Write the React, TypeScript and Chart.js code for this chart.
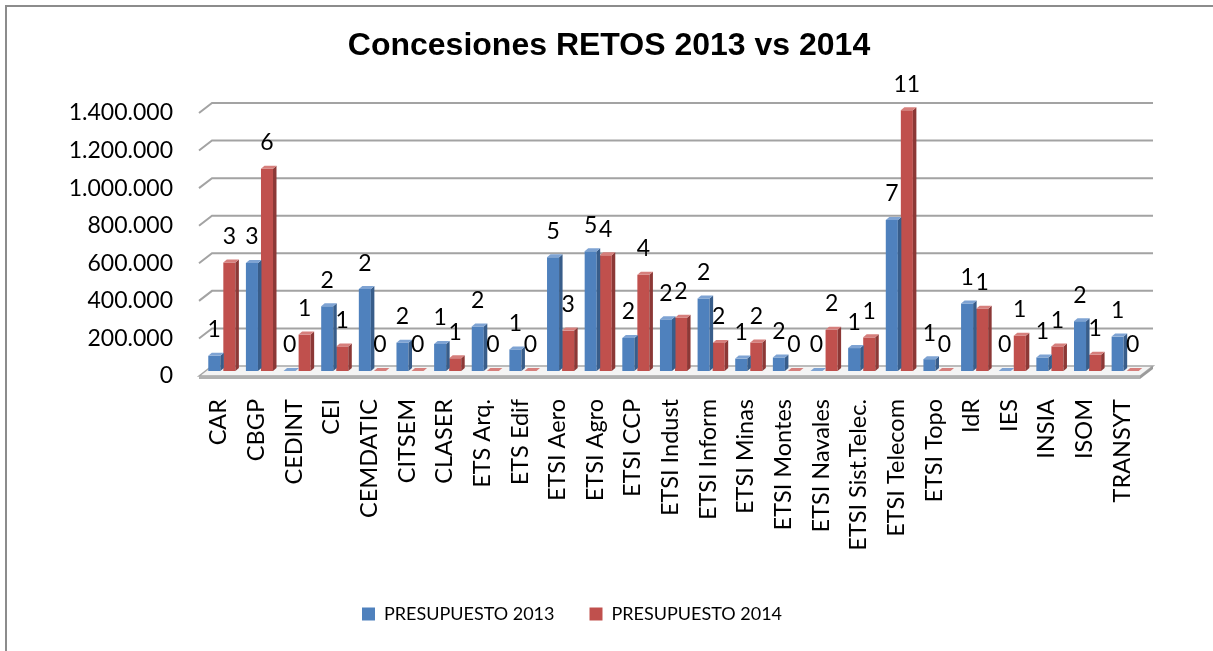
import React, { useEffect, useRef } from "react";
import { Chart, registerables } from "chart.js";

Chart.register(...registerables);

const TITLE = "Concesiones RETOS 2013 vs 2014";
const categories = [
  "CAR", "CBGP", "CEDINT", "CEI", "CEMDATIC", "CITSEM", "CLASER", "ETS Arq.", "ETS Edif",
  "ETSI Aero", "ETSI Agro", "ETSI CCP", "ETSI Indust", "ETSI Inform", "ETSI Minas",
  "ETSI Montes", "ETSI Navales", "ETSI Sist.Telec.", "ETSI Telecom", "ETSI Topo",
  "IdR", "IES", "INSIA", "ISOM", "TRANSYT",
];
const presupuesto2013 = [
  81000, 575000, 0, 345000, 436000, 151000, 144000, 237000, 115000,
  605000, 637000, 176000, 275000, 386000, 66000,
  72000, 0, 122000, 804000, 63000,
  359000, 0, 72000, 265000, 183000,
];
const presupuesto2014 = [
  578000, 1077000, 194000, 131000, 0, 0, 68000, 0, 0,
  215000, 616000, 512000, 284000, 149000, 152000,
  0, 219000, 179000, 1388000, 0,
  332000, 188000, 131000, 86000, 0,
];
const concesiones2013 = [1, 3, 0, 2, 2, 2, 1, 2, 1, 5, 5, 2, 2, 2, 1, 2, 0, 1, 7, 1, 1, 0, 1, 2, 1];
const concesiones2014 = [3, 6, 1, 1, 0, 0, 1, 0, 0, 3, 4, 4, 2, 2, 2, 0, 2, 1, 11, 0, 1, 1, 1, 1, 0];
const seriesNames = ["PRESUPUESTO 2013", "PRESUPUESTO 2014"];
const yMax = 1400000;
const yStep = 200000;

const FRONT = ["#4f81bd", "#c0504d"];
const SIDE = ["#385d8a", "#8c3836"];
const TOP = ["#7ea3d3", "#d67f7c"];

const fmt = (v: number) => String(v).replace(/\B(?=(\d{3})+(?!\d))/g, ".");

const titlePlugin = {
  id: "customTitle",
  afterDraw(chart: any) {
    const { ctx } = chart;
    ctx.save();
    ctx.font = 'bold 32px "Liberation Sans", Arial, sans-serif';
    ctx.fillStyle = "#000";
    ctx.textAlign = "center";
    ctx.textBaseline = "middle";
    ctx.fillText(TITLE, 609, 46);
    ctx.restore();
  },
};

const wallPlugin = {
  id: "wall3d",
  beforeDatasetsDraw(chart: any) {
    const { ctx, chartArea, scales } = chart;
    const { left, right } = chartArea;
    const y = scales.y;
    ctx.save();
    // floor
    const y0 = y.getPixelForValue(0);
    ctx.beginPath();
    ctx.moveTo(left - 4, y0 + 5);
    ctx.lineTo(left + 9, y0 - 5);
    ctx.lineTo(right + 9, y0 - 5);
    ctx.lineTo(right - 4, y0 + 5);
    ctx.closePath();
    ctx.fillStyle = "#f4f4f4";
    ctx.fill();
    ctx.strokeStyle = "#a6a6a6";
    ctx.lineWidth = 1.5;
    ctx.stroke();
    ctx.fillStyle = "#b0b0b0";
    ctx.fillRect(left - 4, y0 + 5, right - left, 3);
    ctx.beginPath();
    ctx.moveTo(right - 4, y0 + 5);
    ctx.lineTo(right + 9, y0 - 5);
    ctx.lineTo(right + 9, y0 - 2);
    ctx.lineTo(right - 4, y0 + 8);
    ctx.closePath();
    ctx.fillStyle = "#9a9a9a";
    ctx.fill();
    // gridlines
    ctx.strokeStyle = "#a3a3a3";
    ctx.lineWidth = 2;
    y.ticks.forEach((t: any) => {
      if (t.value === 0) return;
      const yy = y.getPixelForValue(t.value);
      ctx.beginPath();
      ctx.moveTo(left - 4, yy + 5);
      ctx.lineTo(left + 9, yy - 5);
      ctx.lineTo(right + 9, yy - 5);
      ctx.stroke();
    });
    ctx.restore();
  },
};

const barFacesPlugin = {
  id: "barFaces",
  afterDatasetsDraw(chart: any) {
    const { ctx } = chart;
    const dx = 3.5;
    const dy = 3;
    ctx.save();
    chart.data.datasets.forEach((_ds: any, di: number) => {
      const meta = chart.getDatasetMeta(di);
      meta.data.forEach((el: any) => {
        const { x, y: top, base, width } = el.getProps(["x", "y", "base", "width"], true);
        const l = x - width / 2;
        const r = x + width / 2;
        ctx.beginPath();
        ctx.moveTo(r, top);
        ctx.lineTo(r + dx, top - dy);
        ctx.lineTo(r + dx, base - dy);
        ctx.lineTo(r, base);
        ctx.closePath();
        ctx.fillStyle = SIDE[di];
        ctx.fill();
        ctx.beginPath();
        ctx.moveTo(l, top);
        ctx.lineTo(l + dx, top - dy);
        ctx.lineTo(r + dx, top - dy);
        ctx.lineTo(r, top);
        ctx.closePath();
        ctx.fillStyle = TOP[di];
        ctx.fill();
      });
    });
    // count labels
    const counts = [concesiones2013, concesiones2014];
    ctx.font = '23px Lato, "Open Sans", sans-serif';
    ctx.fillStyle = "#000";
    ctx.textAlign = "center";
    ctx.textBaseline = "middle";
    chart.data.datasets.forEach((_ds: any, di: number) => {
      const meta = chart.getDatasetMeta(di);
      meta.data.forEach((el: any, i: number) => {
        const { x, y: top } = el.getProps(["x", "y"], true);
        ctx.fillText(String(counts[di][i]), x, top - 26);
      });
    });
    ctx.restore();
  },
};

export default function App() {
  const ref = useRef<HTMLCanvasElement>(null);
  useEffect(() => {
    document.body.style.margin = "0";
    const chart = new Chart(ref.current as HTMLCanvasElement, {
      type: "bar",
      data: {
        labels: categories,
        datasets: [
          { label: seriesNames[0], data: presupuesto2013, backgroundColor: FRONT[0], borderWidth: 0 },
          { label: seriesNames[1], data: presupuesto2014, backgroundColor: FRONT[1], borderWidth: 0 },
        ],
      },
      options: {
        responsive: false,
        animation: false,
        layout: { padding: { top: 108, right: 69, bottom: 18, left: 0 } },
        datasets: { bar: { categoryPercentage: 0.8, barPercentage: 0.8 } },
        plugins: {
          title: { display: false },
          tooltip: { enabled: false },
          legend: {
            position: "bottom",
            labels: {
              boxWidth: 13,
              boxHeight: 13,
              padding: 35,
              color: "#000",
              font: { family: "Lato", size: 18 },
            },
          },
        },
        scales: {
          x: {
            grid: { display: false, drawTicks: false },
            border: { display: false },
            ticks: {
              autoSkip: false,
              minRotation: 90,
              maxRotation: 90,
              padding: 28,
              labelOffset: -3,
              color: "#000",
              font: { family: "Lato", size: 23.5 },
            },
            afterFit: (s: any) => {
              s.height = 199;
            },
          },
          y: {
            min: 0,
            max: yMax,
            grid: { display: false, drawTicks: false },
            border: { display: false },
            ticks: {
              stepSize: yStep,
              padding: 30,
              labelOffset: 5,
              color: "#000",
              font: { family: "Lato", size: 23 },
              callback: (v: any) => fmt(Number(v)),
            },
            afterFit: (s: any) => {
              s.width = 203;
            },
          },
        },
      },
      plugins: [titlePlugin, wallPlugin, barFacesPlugin],
    } as any);
    return () => chart.destroy();
  }, []);
  return (
    <div style={{ position: "relative", width: 1213, height: 651, overflow: "hidden", background: "#fff" }}>
      <div
        style={{
          position: "absolute",
          left: 5,
          top: 5,
          width: 1208,
          height: 646,
          borderLeft: "2px solid #8c8c8c",
          borderTop: "2px solid #8c8c8c",
          boxSizing: "border-box",
        }}
      />
      <canvas ref={ref} width={1213} height={651} style={{ position: "absolute", left: 0, top: 0 }} />
    </div>
  );
}
